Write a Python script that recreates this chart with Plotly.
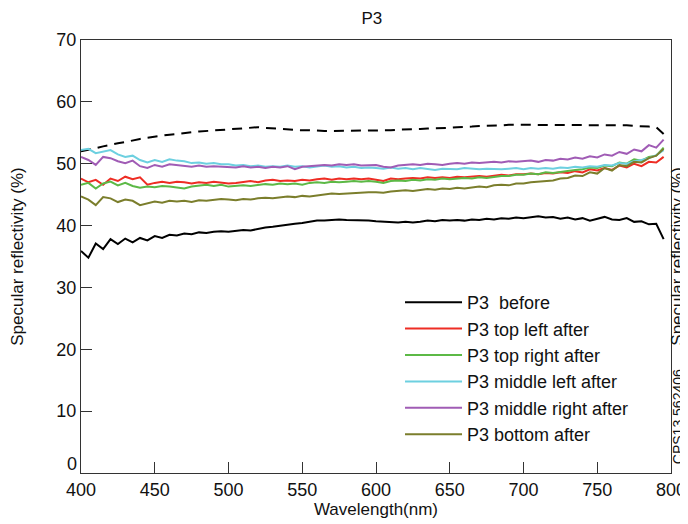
import plotly.graph_objects as go

wavelength = list(range(400, 800, 5))

before = [35.9, 34.8, 37.1, 36.2, 37.8, 37.0, 37.9, 37.3, 38.0, 37.6,
          38.3, 38.0, 38.5, 38.4, 38.7, 38.6, 38.9, 38.8, 39.0, 39.1,
          39.0, 39.2, 39.3, 39.2, 39.5, 39.7, 39.8, 40.0, 40.1, 40.3,
          40.4, 40.6, 40.8, 40.8, 40.9, 41.0, 40.9, 40.9, 40.8, 40.8,
          40.7, 40.6, 40.6, 40.5, 40.6, 40.5, 40.6, 40.8, 40.7, 40.9,
          40.8, 40.9, 40.8, 41.0, 40.9, 41.1, 41.0, 41.2, 41.1, 41.3,
          41.2, 41.4, 41.5, 41.3, 41.4, 41.1, 41.3, 41.0, 41.2, 40.8,
          41.1, 41.4, 41.0, 40.9, 41.2, 40.6, 40.7, 40.2, 40.3, 37.8]

reference_dashed = [52.0, 52.2, 52.5, 52.8, 53.1, 53.3, 53.5, 53.8, 54.0, 54.2,
                    54.4, 54.5, 54.7, 54.8, 55.0, 55.1, 55.2, 55.3, 55.4, 55.5,
                    55.6, 55.7, 55.8, 55.8, 55.9, 55.8, 55.7, 55.6, 55.5, 55.5,
                    55.4, 55.4, 55.3, 55.3, 55.3, 55.3, 55.3, 55.3, 55.3, 55.3,
                    55.3, 55.4, 55.4, 55.5, 55.5, 55.6, 55.6, 55.7, 55.7, 55.8,
                    55.8, 55.9, 55.9, 56.0, 56.1, 56.1, 56.2, 56.2, 56.3, 56.3,
                    56.3, 56.3, 56.3, 56.3, 56.3, 56.3, 56.3, 56.3, 56.3, 56.3,
                    56.3, 56.3, 56.2, 56.2, 56.2, 56.1, 56.1, 56.0, 55.9, 54.8]

top_left = [47.6, 47.0, 47.4, 46.6, 47.6, 47.2, 47.9, 47.5, 47.8, 46.6,
            46.9, 47.1, 46.9, 47.1, 47.0, 46.8, 47.0, 46.9, 47.1, 47.0,
            46.8, 46.9, 47.0, 47.2, 47.0, 47.3, 47.4, 47.2, 47.3, 47.2,
            47.4, 47.3, 47.5, 47.6, 47.4, 47.6, 47.5, 47.6, 47.5, 47.6,
            47.4, 47.2, 47.6, 47.5, 47.6, 47.7, 47.6, 47.8, 47.7, 47.8,
            47.7, 47.9, 47.8, 47.9, 48.0, 47.9, 48.1, 48.2, 48.1, 48.3,
            48.3, 48.4, 48.3, 48.5, 48.4, 48.6, 48.5, 48.8, 48.6, 49.1,
            48.9, 49.3, 49.0, 49.7, 49.4, 50.0, 49.6, 50.3, 50.2, 51.1]

top_right = [46.6, 46.9, 46.0, 46.8, 47.1, 46.5, 46.9, 46.4, 46.1, 46.3,
             46.2, 46.4, 46.3, 46.2, 46.0, 46.3, 46.4, 46.6, 46.4, 46.6,
             46.3, 46.4, 46.5, 46.4, 46.6, 46.7, 46.6, 46.8, 46.7, 46.8,
             46.6, 46.9, 47.0, 46.9, 47.1, 47.0, 47.1, 47.2, 47.1, 47.2,
             47.1, 46.9, 47.2, 47.3, 47.2, 47.4, 47.3, 47.5, 47.4, 47.6,
             47.5, 47.6, 47.7, 47.6, 47.8, 47.7, 47.9, 48.0, 48.0, 48.2,
             48.2, 48.4, 48.3, 48.6, 48.5, 48.7, 48.8, 49.0, 49.1, 49.4,
             49.3, 49.7, 49.6, 50.2, 50.0, 50.7, 50.5, 51.1, 51.3, 52.6]

middle_left = [52.2, 52.4, 51.7, 52.0, 52.2, 51.5, 51.1, 51.3, 50.6, 50.2,
               50.6, 50.3, 50.7, 50.5, 50.4, 50.1, 50.2, 50.0, 50.1, 49.9,
               49.9, 49.7, 49.8, 49.6, 49.7, 49.5, 49.6, 49.5, 49.7, 49.5,
               49.6, 49.4, 49.6, 49.7, 49.5, 49.6, 49.4, 49.5, 49.3, 49.4,
               49.3, 49.2, 49.4, 49.2, 49.3, 49.1, 49.3, 49.2, 49.0, 49.2,
               49.2, 49.1, 49.3, 49.2, 49.1, 49.2, 49.1, 49.1, 49.2, 49.3,
               49.1, 49.3, 49.2, 49.3, 49.2, 49.4, 49.3, 49.5, 49.4, 49.6,
               49.5, 49.8, 49.7, 50.1, 50.0, 50.4, 50.6, 50.9, 51.4, 52.2]

middle_right = [51.1, 50.6, 49.8, 51.1, 50.9, 50.4, 50.1, 50.5, 49.6, 49.3,
                49.8, 49.5, 49.9, 49.8, 49.6, 49.5, 49.7, 49.5, 49.6, 49.5,
                49.5, 49.4, 49.6, 49.4, 49.5, 49.3, 49.5, 49.4, 49.6, 49.1,
                49.5, 49.6, 49.7, 49.8, 49.7, 49.9, 49.8, 49.9, 49.7, 49.8,
                49.8, 49.5, 49.4, 49.7, 49.8, 49.9, 49.8, 50.0, 49.9, 49.8,
                50.0, 50.1, 50.0, 50.2, 50.1, 50.2, 50.3, 50.2, 50.4, 50.3,
                50.4, 50.5, 50.3, 50.6, 50.5, 50.8, 50.7, 51.0, 50.8, 51.2,
                51.0, 51.5, 51.3, 51.9, 51.6, 52.3, 52.0, 53.0, 52.6, 53.9]

bottom = [44.7, 44.2, 43.3, 44.6, 44.4, 43.8, 44.2, 44.0, 43.3, 43.6,
          43.9, 43.7, 44.0, 43.9, 44.0, 43.8, 44.1, 44.0, 44.2, 44.3,
          44.2, 44.1, 44.3, 44.2, 44.4, 44.5, 44.4, 44.6, 44.7, 44.6,
          44.8, 44.7, 44.9, 45.1, 45.2, 45.1, 45.2, 45.3, 45.4, 45.4,
          45.4, 45.3, 45.5, 45.6, 45.7, 45.6, 45.8, 45.9, 45.8, 46.0,
          45.9, 46.1, 46.0, 46.1, 46.3, 46.2, 46.5, 46.6, 46.5, 46.8,
          46.8, 47.0, 47.1, 47.3, 47.3, 47.6, 47.7, 48.1, 48.0, 48.6,
          48.4, 49.3, 48.9, 49.8, 49.6, 50.3, 50.2, 50.9, 51.3, 52.4]

x_ticks = [400, 450, 500, 550, 600, 650, 700, 750, 800]
y_ticks = [10, 20, 30, 40, 50, 60, 70]

series = [
    ("P3  before", before, "#000000"),
    ("P3 top left after", top_left, "#ee2d24"),
    ("P3 top right after", top_right, "#5cb946"),
    ("P3 middle left after", middle_left, "#6dd0e0"),
    ("P3 middle right after", middle_right, "#a05cb5"),
    ("P3 bottom after", bottom, "#7b7e2c"),
]

FONT = "Liberation Sans, Arial, sans-serif"
TXT = "#111111"

fig = go.Figure()
fig.add_trace(go.Scatter(x=wavelength, y=reference_dashed, mode="lines",
                         line=dict(color="#000000", width=2, dash="10px,7px"),
                         showlegend=False))
for name, vals, col in series:
    fig.add_trace(go.Scatter(x=wavelength, y=vals, mode="lines", name=name,
                             line=dict(color=col, width=2)))

axis_common = dict(showline=True, linecolor="#333333", linewidth=1, mirror=True,
                   ticks="inside", ticklen=11, tickcolor="#333333", tickwidth=1,
                   showgrid=False, zeroline=False, automargin=False,
                   tickfont=dict(family=FONT, size=18, color=TXT))

# page body adds an 8px offset, so the figure is 680x516 inside the 688x524 window
fig.update_layout(
    width=680, height=516,
    margin=dict(l=73, r=17, t=32, b=51),
    paper_bgcolor="white", plot_bgcolor="white",
    title=dict(text="P3", x=0.535, xanchor="center", y=0.9806, yanchor="middle",
               font=dict(family=FONT, size=17, color=TXT)),
    xaxis=dict(range=[400, 800], tickvals=x_ticks,
               title=dict(text="Wavelength(nm)", standoff=0,
                          font=dict(family=FONT, size=17, color=TXT)),
               **axis_common),
    yaxis=dict(range=[0, 70], tickvals=y_ticks,
               title=dict(text="Specular reflectivity (%)", standoff=30,
                          font=dict(family=FONT, size=17, color=TXT)),
               **axis_common),
    legend=dict(x=0.5407, y=0.4365, xanchor="left", yanchor="top",
                bgcolor="rgba(0,0,0,0)", borderwidth=0,
                font=dict(family=FONT, size=18, color=TXT),
                tracegroupgap=0, itemwidth=57),
    showlegend=True,
)

# zero label of the y axis, sitting just above the x axis like in the reference
fig.add_annotation(xref="paper", yref="y", x=0, y=0, text="0", showarrow=False,
                   xanchor="right", yanchor="bottom", xshift=-2, yshift=-3,
                   font=dict(family=FONT, size=18, color=TXT))
fig.add_annotation(xref="paper", yref="paper", x=1.0105, y=0.5, xanchor="center",
                   yanchor="middle",
                   text="Specular reflectivity (%)", textangle=-90, showarrow=False,
                   font=dict(family=FONT, size=17, color=TXT))
fig.add_annotation(xref="paper", yref="paper", x=1.0119, y=0.129,
                   xanchor="center", yanchor="middle",
                   text="CPS13.562406", textangle=-90, showarrow=False,
                   font=dict(family=FONT, size=14, color=TXT))

fig.write_html("out.html")
